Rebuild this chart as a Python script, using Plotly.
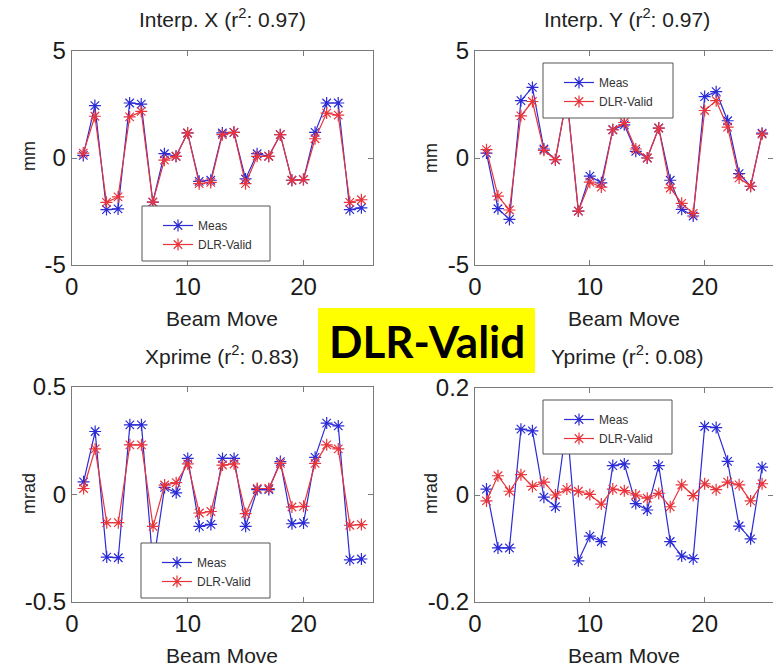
import plotly.graph_objects as go

# ---------------- data ----------------
beam_move = list(range(1, 26))

interp_x_meas = [0.12, 2.45, -2.41, -2.38, 2.57, 2.52, -2.06, 0.20, 0.08, 1.17, -1.09, -1.04, 1.17,
                 1.20, -0.98, 0.20, 0.08, 1.09, -1.04, -1.01, 1.20, 2.57, 2.57, -2.41, -2.33]
interp_x_dlr = [0.23, 1.95, -2.07, -1.82, 1.92, 2.18, -2.06, -0.10, 0.08, 1.17, -1.20, -1.14, 1.09,
                1.20, -1.20, 0.08, 0.08, 1.09, -1.04, -1.01, 0.90, 2.10, 2.00, -2.07, -1.95]

interp_y_meas = [0.23, -2.37, -2.87, 2.68, 3.30, 0.42, -0.08, 2.85, -2.48, -0.85, -1.16, 1.32, 1.55,
                 0.31, 0.00, 1.40, -1.04, -2.40, -2.71, 2.87, 3.10, 1.74, -0.73, -1.32, 1.16]
interp_y_dlr = [0.39, -1.78, -2.43, 1.97, 2.64, 0.36, -0.08, 2.85, -2.48, -1.13, -1.36, 1.32, 1.66,
                0.42, 0.00, 1.40, -1.40, -2.12, -2.59, 2.22, 2.68, 1.44, -0.93, -1.32, 1.12]

xprime_meas = [0.059, 0.293, -0.291, -0.294, 0.324, 0.324, -0.33, 0.033, 0.008, 0.168, -0.148, -0.139, 0.168,
               0.168, -0.148, 0.023, 0.023, 0.153, -0.136, -0.132, 0.173, 0.332, 0.319, -0.304, -0.30]
xprime_dlr = [0.028, 0.212, -0.131, -0.131, 0.231, 0.231, -0.148, 0.044, 0.055, 0.142, -0.086, -0.079, 0.137,
              0.142, -0.089, 0.028, 0.028, 0.145, -0.058, -0.055, 0.145, 0.231, 0.212, -0.143, -0.14]

yprime_meas = [0.011, -0.099, -0.099, 0.123, 0.120, -0.004, -0.022, 0.135, -0.123, -0.077, -0.087, 0.055, 0.058,
               -0.016, -0.028, 0.055, -0.087, -0.114, -0.119, 0.128, 0.126, 0.063, -0.058, -0.082, 0.052]
yprime_dlr = [-0.011, 0.036, 0.007, 0.038, 0.016, 0.024, 0.000, 0.011, 0.007, 0.001, -0.017, 0.011, 0.008,
              0.000, -0.006, 0.003, -0.022, 0.019, -0.001, 0.021, 0.010, 0.024, 0.019, -0.011, 0.021]

panel_titles = ["Interp. X (r<sup>2</sup>: 0.97)", "Interp. Y (r<sup>2</sup>: 0.97)",
                "Xprime (r<sup>2</sup>: 0.83)", "Yprime (r<sup>2</sup>: 0.08)"]
y_labels = ["mm", "mm", "mrad", "mrad"]
x_label = "Beam Move"
x_ticks = [0, 10, 20]
y_ticks = [[-5, 0, 5], [-5, 0, 5], [-0.5, 0, 0.5], [-0.2, 0, 0.2]]
y_ticktext = [["-5", "0", "5"], ["-5", "0", "5"], ["-0.5", "0", "0.5"], ["-0.2", "0", "0.2"]]
series_names = ["Meas", "DLR-Valid"]
banner_text = "DLR-Valid"

# ---------------- layout helpers ----------------
W, H = 773, 669
BLUE = "#2b2bd6"
RED = "#e8343a"
AXC = "#7a7a7a"


def px(x):
    return x / W


def py(y):
    return 1 - y / H


panels = [
    dict(x=(71.7, 373), y=(51, 265), xr=[0, 26], yr=[-5, 5], data=(interp_x_meas, interp_x_dlr),
         title=(222, 18), xl=(222, 318), yl=(29, 156), leg=(142, 206, 270, 261)),
    dict(x=(475, 773), y=(51, 265), xr=[0, 25.95], yr=[-5, 5], data=(interp_y_meas, interp_y_dlr),
         title=(627, 18), xl=(624, 318), yl=(431, 158), leg=(543, 63, 673, 118)),
    dict(x=(72, 373), y=(387, 602), xr=[0, 26], yr=[-0.5, 0.5], data=(xprime_meas, xprime_dlr),
         title=(222, 355), xl=(222, 655), yl=(29, 494), leg=(141, 543, 270, 598)),
    dict(x=(475, 773), y=(388, 602), xr=[0, 25.95], yr=[-0.2, 0.2], data=(yprime_meas, yprime_dlr),
         title=(627, 355), xl=(624, 655), yl=(431, 494), leg=(543, 400, 672, 454)),
]

fig = go.Figure()
layout = dict(
    width=W, height=H,
    margin=dict(l=0, r=0, t=0, b=0, pad=0, autoexpand=False),
    paper_bgcolor="white", plot_bgcolor="white",
    font=dict(family="Liberation Sans, Arial, sans-serif", color="#1a1a1a"),
    annotations=[], shapes=[],
)

for i, p in enumerate(panels):
    k = "" if i == 0 else str(i + 1)
    xa, ya = "x" + k, "y" + k
    leg = "legend" + k
    meas, dlr = p["data"]
    for name, vals, col in ((series_names[0], meas, BLUE), (series_names[1], dlr, RED)):
        fig.add_trace(go.Scatter(
            x=beam_move, y=vals, name=name, mode="lines+markers",
            line=dict(color=col, width=1.2),
            marker=dict(symbol="asterisk-open", size=10, color=col, line=dict(width=1.2, color=col)),
            xaxis=xa, yaxis=ya, legend=leg, showlegend=True, cliponaxis=False,
        ))
    axcommon = dict(showline=True, linecolor=AXC, linewidth=1, mirror="ticks", ticks="inside",
                    ticklen=5, tickcolor=AXC, showgrid=False, zeroline=False, automargin=False,
                    tickfont=dict(size=24, family="Liberation Sans, Arial, sans-serif", color="#1a1a1a"))
    layout["xaxis" + k] = dict(domain=[px(p["x"][0]), px(p["x"][1])], range=p["xr"], anchor=ya,
                               tickvals=x_ticks, **axcommon)
    layout["yaxis" + k] = dict(domain=[py(p["y"][1]), py(p["y"][0])], range=p["yr"], anchor=xa,
                               tickvals=y_ticks[i], ticktext=y_ticktext[i], **axcommon)
    # texts
    layout["annotations"].append(dict(text=panel_titles[i], x=px(p["title"][0]), y=py(p["title"][1]),
                                      xref="paper", yref="paper", showarrow=False,
                                      xanchor="center", yanchor="middle",
                                      font=dict(size=21, color="#222222")))
    layout["annotations"].append(dict(text=x_label, x=px(p["xl"][0]), y=py(p["xl"][1]),
                                      xref="paper", yref="paper", showarrow=False,
                                      xanchor="center", yanchor="middle",
                                      font=dict(size=21, color="#222222")))
    layout["annotations"].append(dict(text=y_labels[i], x=px(p["yl"][0]), y=py(p["yl"][1]),
                                      xref="paper", yref="paper", showarrow=False, textangle=-90,
                                      xanchor="center", yanchor="middle",
                                      font=dict(size=18, color="#222222")))
    # legend box
    bx0, by0, bx1, by1 = p["leg"]
    layout["shapes"].append(dict(type="rect", xref="paper", yref="paper",
                                 x0=px(bx0), x1=px(bx1), y0=py(by1), y1=py(by0),
                                 fillcolor="white", line=dict(color="#555555", width=1), layer="above"))
    layout[leg] = dict(x=px(bx0 + 16), y=py(by0 + 5), xanchor="left", yanchor="top",
                       bgcolor="rgba(0,0,0,0)", borderwidth=0,
                       font=dict(size=12, family="Liberation Sans, Arial, sans-serif", color="#333333"),
                       tracegroupgap=0)

# banner
layout["shapes"].append(dict(type="rect", xref="paper", yref="paper",
                             x0=px(318), x1=px(535), y0=py(373), y1=py(308),
                             fillcolor="#ffff00", line=dict(width=0), layer="above"))
layout["annotations"].append(dict(text="<b>" + banner_text + "</b>", x=px(426.5), y=py(341),
                                  xref="paper", yref="paper", showarrow=False,
                                  xanchor="center", yanchor="middle",
                                  font=dict(size=44, family="Lato, Open Sans, sans-serif", color="black")))

fig.update_layout(**layout)
fig.write_html("out.html", config={"displayModeBar": False},
               post_script="document.body.style.margin='0';document.body.style.overflow='hidden';")
